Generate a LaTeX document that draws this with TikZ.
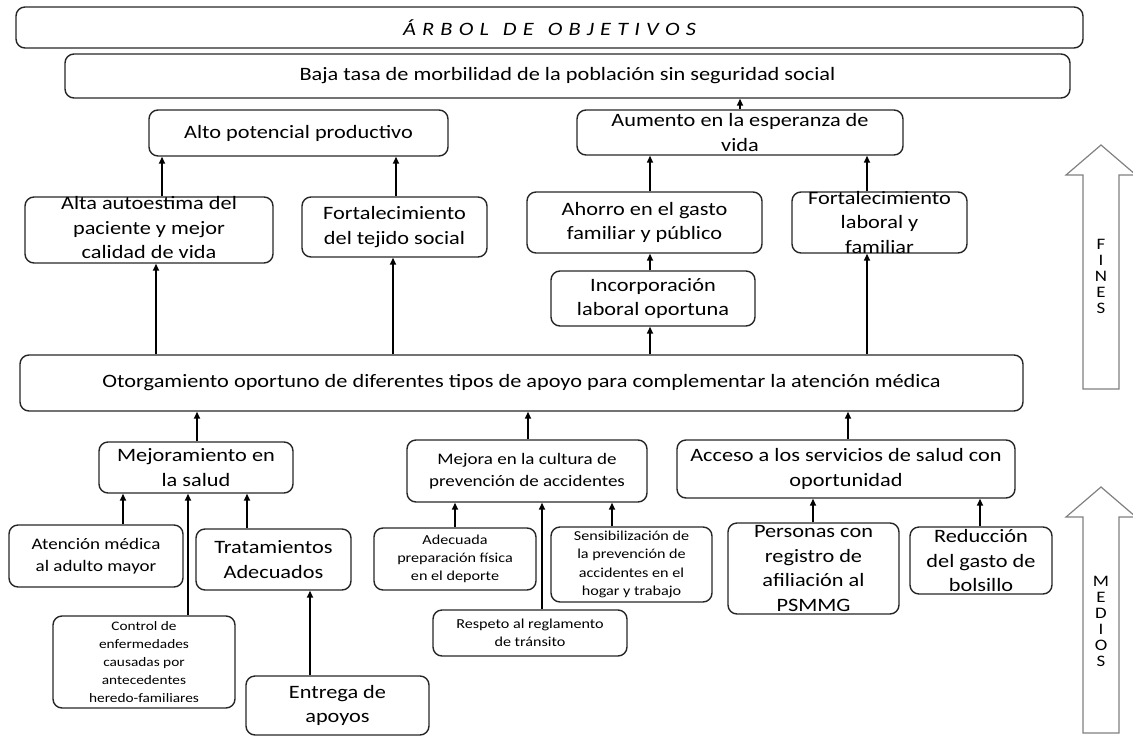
\documentclass[tikz,border=0pt]{standalone}
\usepackage{fontspec}
\setmainfont{Carlito}[FakeStretch=1.18]
\usetikzlibrary{arrows.meta}
\tikzset{
  box/.style={draw=black!85, line width=1.4pt, rounded corners=9pt, inner sep=0pt},
  big/.style={align=center, inner sep=0pt, font=\fontsize{18.9}{24.5}\selectfont},
  med/.style={align=center, inner sep=0pt, font=\fontsize{16.1}{22}\selectfont},
  sml/.style={align=center, inner sep=0pt, font=\fontsize{13.7}{18.3}\selectfont},
  tny/.style={align=center, inner sep=0pt, font=\fontsize{13}{18.2}\selectfont},
  arr/.style={line width=1.6pt, -{Triangle[length=7pt,width=6pt]}},
  hollow/.style={draw=black!50, line width=1.2pt, line join=miter},
  vert/.style={align=center, inner sep=0pt, font=\fontsize{16}{16}\selectfont},
}
\newcommand\bx[5]{\node[box,minimum width={#4-#2},minimum height={#5-#3}] (#1) at ({(#2+#4)/2},{(#3+#5)/2}) {};}
\newcommand\con[3]{\coordinate (k#1#2) at (#3,0); \draw[arr] (#1.north -| k#1#2) -- (#2.south -| k#1#2);}
\newcommand\gp{\hspace{6.2pt}}
\newcommand\wgp{\hspace{14pt}}
\begin{document}
\begin{tikzpicture}[x=1pt,y=-1pt]
\useasboundingbox (0,0) rectangle (1133,737);
% boxes
\bx{title}{16}{7}{1083}{48}
\bx{main}{65}{54}{1070}{98}
\bx{alto}{149}{110}{448}{156}
\bx{aumento}{577}{110}{903}{155}
\bx{alta}{25}{197}{273}{263}
\bx{tejido}{302}{197}{487}{257}
\bx{ahorro}{527}{192}{762}{253}
\bx{fortlab}{792}{192}{967}{253}
\bx{incorp}{551}{271}{755}{326}
\bx{otorg}{20}{355}{1023}{411}
\bx{mejsalud}{99}{442}{293}{493}
\bx{cultura}{407}{440}{647}{502}
\bx{acceso}{677}{440}{1015}{498}
\bx{atencion}{9}{525}{183}{587}
\bx{trat}{196}{529}{351}{590}
\bx{control}{53}{616}{235}{708}
\bx{entrega}{246}{676}{429}{735}
\bx{adecuada}{374}{528}{536}{590}
\bx{sensib}{551}{527}{712}{602}
\bx{respeto}{433}{610}{627}{656}
\bx{personas}{728}{523}{899}{614}
\bx{reduccion}{910}{527}{1052}{594}
% connectors
\con{aumento}{main}{740}
\con{alta}{alto}{162}
\con{tejido}{alto}{396}
\con{ahorro}{aumento}{650}
\con{fortlab}{aumento}{867}
\con{incorp}{ahorro}{650}
\con{otorg}{alta}{156}
\con{otorg}{tejido}{393}
\con{otorg}{incorp}{650}
\con{otorg}{fortlab}{867}
\con{mejsalud}{otorg}{197}
\con{cultura}{otorg}{528}
\con{acceso}{otorg}{848}
\con{atencion}{mejsalud}{123}
\con{control}{mejsalud}{188}
\con{trat}{mejsalud}{247}
\con{entrega}{trat}{310}
\con{adecuada}{cultura}{455}
\con{respeto}{cultura}{542}
\con{sensib}{cultura}{612}
\con{personas}{acceso}{813}
\con{reduccion}{acceso}{980}
% texts
\node[big,font=\fontsize{18.9}{24.5}\selectfont\itshape] (ttitle) at (title) {Á\gp R\gp B\gp O\gp L\wgp D\gp E\wgp O\gp B\gp J\gp E\gp T\gp I\gp V\gp O\gp S};
\node[big] (tmain) at (main) {Baja tasa de morbilidad de la población sin seguridad social};
\node[big] (talto) at (alto) {Alto potencial productivo};
\node[big] (taumento) at (aumento) {Aumento en la esperanza de\\vida};
\node[big] (talta) at ([yshift=2pt]alta.center) {Alta autoestima del\\paciente y mejor\\calidad de vida};
\node[big] (ttejido) at (tejido) {Fortalecimiento\\del tejido social};
\node[big] (tahorro) at (ahorro) {Ahorro en el gasto\\familiar y público};
\node[big] (tfortlab) at (fortlab) {Fortalecimiento\\laboral y\\familiar};
\node[big] (tincorp) at (incorp) {Incorporación\\laboral oportuna};
\node[big] (totorg) at (otorg) {Otorgamiento oportuno de diferentes tipos de apoyo para complementar la atención médica};
\node[big] (tmejsalud) at (mejsalud) {Mejoramiento en\\la salud};
\node[med] (tcultura) at (cultura) {Mejora en la cultura de\\prevención de accidentes};
\node[big] (tacceso) at (acceso) {Acceso a los servicios de salud con\\oportunidad};
\node[med] (tatencion) at (atencion) {Atención médica\\al adulto mayor};
\node[big] (ttrat) at (trat) {Tratamientos\\Adecuados};
\node[tny] (tcontrol) at (control) {Control de\\enfermedades\\causadas por\\antecedentes\\heredo-familiares};
\node[big] (tentrega) at (entrega) {Entrega de\\apoyos};
\node[sml] (tadecuada) at (adecuada) {Adecuada\\preparación física\\en el deporte};
\node[sml] (tsensib) at (sensib) {Sensibilización de\\la prevención de\\accidentes en el\\hogar y trabajo};
\node[sml] (trespeto) at (respeto) {Respeto al reglamento\\de tránsito};
\node[big] (tpersonas) at (personas) {Personas con\\registro de\\afiliación al\\PSMMG};
\node[big] (treduccion) at (reduccion) {Reducción\\del gasto de\\bolsillo};
% big hollow arrows
\draw[hollow] (1083,389) -- (1083,175) -- (1066,175) -- (1101,145) -- (1136,175) -- (1119,175) -- (1119,389) -- cycle;
\draw[hollow] (1083,733) -- (1083,517) -- (1066,517) -- (1101,487) -- (1136,517) -- (1119,517) -- (1119,733) -- cycle;
\node[vert] (fines) at (1101,276) {F\\I\\N\\E\\S};
\node[vert] (medios) at (1101,621) {M\\E\\D\\I\\O\\S};
\end{tikzpicture}
\end{document}
